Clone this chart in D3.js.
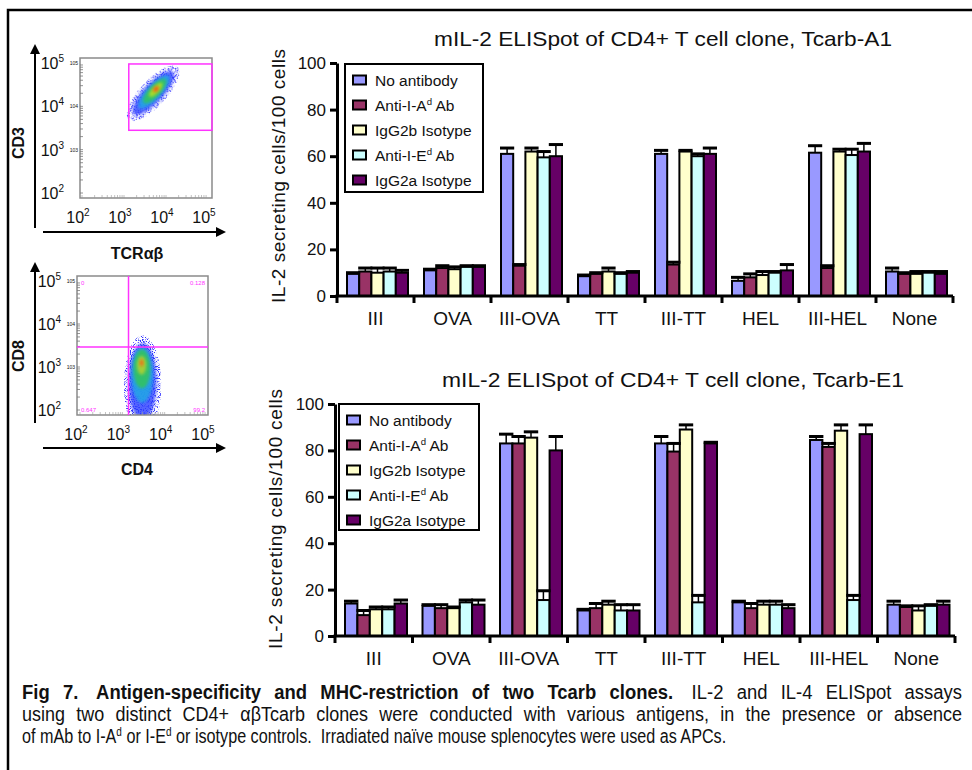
<!DOCTYPE html>
<html>
<head>
<meta charset="utf-8">
<script src="https://cdn.jsdelivr.net/npm/d3@7"></script>
<style>
  body { margin: 0; background: #fff; }
  svg { display: block; }
  text { font-family: "Liberation Sans", Arial, sans-serif; fill: #111; }
</style>
</head>
<body>
<div id="fig"></div>
<script>
// ---- data ----
const categories = ["III", "OVA", "III-OVA", "TT", "III-TT", "HEL", "III-HEL", "None"];
const treatments = ["No antibody", "Anti-I-A|d|Ab", "IgG2b Isotype", "Anti-I-E|d|Ab", "IgG2a Isotype"];
const treatmentColors = ["#9999ff", "#993366", "#ffffcc", "#ccffff", "#660066"];
const yTicks = [0, 20, 40, 60, 80, 100];

// Tcarb-A1, mean per category (5 treatments each)
const a1Means = [
  [9.5, 10.5, 10, 10.5, 10],
  [11, 12, 11.5, 12.5, 12.5],
  [61, 13, 62, 59.5, 60],
  [8.5, 9.5, 10.5, 9.5, 10],
  [61, 13.5, 62, 60, 61],
  [6.5, 8, 9, 10, 11],
  [61.5, 12, 62, 60.5, 62],
  [10.5, 9.5, 9.5, 10, 9.5]
];
const a1Errors = [
  [0.5, 1.5, 2, 1.5, 1],
  [0.5, 1, 1, 0.5, 0.5],
  [2.5, 0.5, 1.5, 2.5, 5],
  [0.5, 0.5, 1.5, 0.5, 0.5],
  [1.5, 1, 0.5, 1, 2.5],
  [1.5, 1.5, 1.5, 0.5, 2.5],
  [3, 1, 1, 2.5, 3.5],
  [1.5, 0.5, 1, 0.5, 1]
];

// Tcarb-E1
const e1Means = [
  [14, 9, 11.5, 11.5, 14],
  [13, 12, 12, 14.5, 13.5],
  [83, 83, 85.5, 15.5, 80],
  [11, 12, 13.5, 11, 11],
  [83, 79.5, 89, 14.5, 83],
  [14.5, 12, 13.5, 13.5, 12],
  [84.5, 81.5, 88.5, 15.5, 87],
  [13.5, 12.5, 11, 13, 13.5]
];
const e1Errors = [
  [1, 2, 1, 1, 1.5],
  [0.5, 1.5, 0.5, 1, 2],
  [4, 3, 2.5, 4, 6],
  [0.5, 2, 1.5, 2.5, 2.5],
  [3, 3.5, 2, 3, 0.5],
  [0.5, 2, 1.5, 1.5, 1.5],
  [1.5, 1.5, 2.5, 2, 4],
  [1.5, 0.5, 2, 0.5, 1.5]
];

// flow cytometry panels (log decades 10^2..10^5)
const flowTicks = [1e2, 1e3, 1e4, 1e5];
// density clouds: [x, y, rx (decades), ry (decades), rotation, colour]
const tcrCloud = [
  [4900, 20000, 0.85, 0.3, -47, "#3535ff"],
  [5000, 20500, 0.68, 0.22, -47, "#2b3dff"],
  [5200, 21500, 0.52, 0.17, -47, "#22a6e6"],
  [5400, 22500, 0.38, 0.13, -47, "#32c45c"],
  [5700, 24000, 0.22, 0.08, -47, "#b8e020"],
  [5800, 25000, 0.08, 0.05, -47, "#ff4a10"]
];
const tcrGate = [1300, 1e5, 2800, 95000];   // x0, x1, y0, y1
const cd4Cloud = [
  [3000, 380, 0.44, 1.15, 0, "#3535ff"],
  [3000, 450, 0.33, 0.9, 0, "#2b3dff"],
  [2950, 650, 0.26, 0.65, 0, "#22a6e6"],
  [2900, 900, 0.2, 0.45, 0, "#32c45c"],
  [2850, 1100, 0.11, 0.22, 0, "#b0d030"],
  [2850, 1250, 0.04, 0.08, 0, "#ff5a10"]
];
const cd4Quad = [1400, 2900];
const cd4QuadStats = ["0", "0.128", "0.647", "99.2"];

// ---- drawing ----
const W = 972, H = 770;
const svg = d3.select("#fig").append("svg").attr("width", W).attr("height", H);
const defs = svg.append("defs");

const blur = defs.append("filter").attr("id", "soft").attr("x", "-50%").attr("y", "-50%").attr("width", "200%").attr("height", "200%");
blur.append("feGaussianBlur").attr("stdDeviation", 1.8);

const speckle = defs.append("filter").attr("id", "speckle").attr("x", "-20%").attr("y", "-20%").attr("width", "140%").attr("height", "140%");
speckle.append("feTurbulence").attr("type", "fractalNoise").attr("baseFrequency", 0.9).attr("numOctaves", 1).attr("seed", 4).attr("result", "noise");
speckle.append("feColorMatrix").attr("in", "noise").attr("type", "matrix")
  .attr("values", "0 0 0 0 0  0 0 0 0 0  0 0 0 0 0  9 0 0 0 -4.6").attr("result", "mask");
speckle.append("feComposite").attr("in", "SourceGraphic").attr("in2", "mask").attr("operator", "in");

// figure frame
svg.append("path").attr("d", "M8,770 V10 H972").attr("fill", "none").attr("stroke", "#000").attr("stroke-width", 2.5);

defs.append("marker").attr("id", "arrow").attr("viewBox", "0 0 10 10").attr("refX", 8).attr("refY", 5)
  .attr("markerWidth", 5).attr("markerHeight", 5).attr("orient", "auto")
  .append("path").attr("d", "M0,0 L10,5 L0,10 Z").attr("fill", "#000");

function powLabel(sel, v) {
  const e = Math.round(Math.log10(v));
  sel.text("10");
  sel.append("tspan").attr("dy", -7).attr("font-size", 10).text(e);
}

function drawFlow(p) {
  const x = d3.scaleLog().domain([1e2, 1e5]).range(p.xr);
  const y = d3.scaleLog().domain([1e2, 1e5]).range(p.yr);
  const xd = (p.xr[1] - p.xr[0]) / 3, yd = (p.yr[0] - p.yr[1]) / 3;
  const g = svg.append("g");
  const [bx0, by0, bx1, by1] = p.box;

  const clipId = "clip" + p.id;
  defs.append("clipPath").attr("id", clipId).append("rect")
    .attr("x", bx0).attr("y", by0).attr("width", bx1 - bx0).attr("height", by1 - by0);

  g.append("rect").attr("x", bx0).attr("y", by0).attr("width", bx1 - bx0).attr("height", by1 - by0)
    .attr("fill", "#fff");

  const cloud = g.append("g").attr("clip-path", `url(#${clipId})`);
  p.cloud.forEach((c, i) => {
    const e = cloud.append("ellipse")
      .attr("cx", 0).attr("cy", 0)
      .attr("rx", c[2] * xd).attr("ry", c[3] * yd)
      .attr("transform", `translate(${x(c[0])},${y(c[1])}) rotate(${c[4]})`)
      .attr("fill", c[5]);
    if (i === 0) e.attr("filter", "url(#speckle)");
    else e.attr("filter", "url(#soft)").attr("opacity", i === 1 ? 0.8 : 0.88);
  });

  g.append("rect").attr("x", bx0).attr("y", by0).attr("width", bx1 - bx0).attr("height", by1 - by0)
    .attr("fill", "none").attr("stroke", "#8a8a8a").attr("stroke-width", 1.5);

  // minor tick marks along the inner left and bottom edges
  const minor = [];
  for (let d = 100; d < 1e5; d *= 10) for (let k = 1; k < 10; k++) minor.push(d * k);
  g.selectAll(".myt").data(minor).join("line")
    .attr("x1", bx0).attr("x2", bx0 + 3).attr("y1", d => y(d)).attr("y2", d => y(d))
    .attr("stroke", "#777").attr("stroke-width", 0.8);
  g.selectAll(".mxt").data(minor).join("line")
    .attr("y1", by1).attr("y2", by1 - 3).attr("x1", d => x(d)).attr("x2", d => x(d))
    .attr("stroke", "#999").attr("stroke-width", 0.6);

  p.extra(g, x, y);

  // tick labels
  g.selectAll(".yl").data(flowTicks).join("text")
    .attr("x", bx0 - 16).attr("y", d => y(d) + 6).attr("text-anchor", "end")
    .attr("font-size", 16).attr("fill", "#222")
    .each(function (d) { powLabel(d3.select(this), d); });
  g.selectAll(".xl").data(flowTicks).join("text")
    .attr("x", d => x(d) - 4).attr("y", p.xLabelY).attr("text-anchor", "middle")
    .attr("font-size", 16).attr("fill", "#222")
    .each(function (d) { powLabel(d3.select(this), d); });

  // tiny inner scale labels
  g.selectAll(".ty").data(flowTicks.slice(1)).join("text")
    .attr("x", bx0 - 2).attr("y", d => y(d) + 2).attr("text-anchor", "end")
    .attr("font-size", 5).attr("fill", "#666").text(d => "10" + Math.log10(d));

  // axis arrows
  g.append("line").attr("x1", 35).attr("x2", 35).attr("y1", p.arrowY[1]).attr("y2", p.arrowY[0])
    .attr("stroke", "#000").attr("stroke-width", 2).attr("marker-end", "url(#arrow)");
  g.append("line").attr("x1", 43).attr("x2", 224).attr("y1", p.arrowX).attr("y2", p.arrowX)
    .attr("stroke", "#000").attr("stroke-width", 2).attr("marker-end", "url(#arrow)");

  g.append("text").attr("x", 137).attr("y", p.arrowX + 27).attr("text-anchor", "middle")
    .attr("font-size", 16).attr("font-weight", "bold").text(p.xLabel);
  g.append("text").attr("transform", `translate(24,${p.yLabelY}) rotate(-90)`).attr("text-anchor", "middle")
    .attr("font-size", 16).attr("font-weight", "bold").text(p.yLabel);
}

drawFlow({
  id: "tcr", box: [80, 58, 212, 198], xr: [82, 208], yr: [193, 63],
  xLabelY: 223, arrowY: [46, 228], arrowX: 232, yLabelY: 143,
  xLabel: "TCRαβ", yLabel: "CD3", cloud: tcrCloud,
  extra: (g, x, y) => {
    g.append("rect").attr("x", x(tcrGate[0])).attr("y", y(tcrGate[3]))
      .attr("width", x(tcrGate[1]) + 4 - x(tcrGate[0])).attr("height", y(tcrGate[2]) - y(tcrGate[3]))
      .attr("fill", "none").attr("stroke", "#ff33ff").attr("stroke-width", 1.5);
  }
});

drawFlow({
  id: "cd4", box: [77, 276, 208, 415], xr: [80, 207], yr: [410, 281],
  xLabelY: 440, arrowY: [264, 423], arrowX: 448, yLabelY: 356,
  xLabel: "CD4", yLabel: "CD8", cloud: cd4Cloud,
  extra: (g, x, y) => {
    g.append("line").attr("x1", x(cd4Quad[0])).attr("x2", x(cd4Quad[0])).attr("y1", 276).attr("y2", 415)
      .attr("stroke", "#ff33ff").attr("stroke-width", 1.5);
    g.append("line").attr("x1", 77).attr("x2", 208).attr("y1", y(cd4Quad[1])).attr("y2", y(cd4Quad[1]))
      .attr("stroke", "#ff33ff").attr("stroke-width", 1.5);
    const pos = [[81, 285, "start"], [205, 285, "end"], [81, 412, "start"], [205, 412, "end"]];
    cd4QuadStats.forEach((s, i) => {
      g.append("text").attr("x", pos[i][0]).attr("y", pos[i][1]).attr("text-anchor", pos[i][2])
        .attr("font-size", 6).style("fill", "#ff33ff").text(s);
    });
  }
});

function supText(sel, label, size) {
  const parts = label.split("|");
  sel.append("tspan").text(parts[0]);
  if (parts.length > 1) {
    sel.append("tspan").attr("dy", -6).attr("font-size", size * 0.62).text(parts[1]);
    sel.append("tspan").attr("dy", 6).text(" " + parts[2]);
  }
}

function drawBars(c) {
  const x0 = d3.scaleBand().domain(categories).range([c.left, c.right]);
  const x1 = d3.scaleBand().domain(d3.range(treatments.length)).range([10, 10 + c.groupW]);
  const y = d3.scaleLinear().domain([0, 100]).range([c.bottom, c.top]);
  const g = svg.append("g");

  g.append("text").attr("x", c.titleX).attr("y", c.titleY).attr("text-anchor", "middle")
    .attr("font-size", 21).attr("textLength", c.titleW).attr("lengthAdjust", "spacingAndGlyphs").text(c.title);

  // bars
  const groups = g.selectAll(".grp").data(c.means).join("g")
    .attr("transform", (d, i) => `translate(${x0(categories[i])},0)`);
  groups.selectAll("rect").data(d => d).join("rect")
    .attr("x", (d, j) => x1(j)).attr("width", x1.bandwidth())
    .attr("y", d => y(d)).attr("height", d => y(0) - y(d))
    .attr("fill", (d, j) => treatmentColors[j])
    .attr("stroke", "#000").attr("stroke-width", 2);

  // error bars (upper only)
  groups.each(function (d, i) {
    const gg = d3.select(this);
    d.forEach((m, j) => {
      const e = c.errors[i][j];
      const cx = x1(j) + x1.bandwidth() / 2;
      gg.append("line").attr("x1", cx).attr("x2", cx).attr("y1", y(m)).attr("y2", y(m + e))
        .attr("stroke", "#000").attr("stroke-width", 1.5);
      gg.append("line").attr("x1", x1(j) - 1).attr("x2", x1(j) + x1.bandwidth() + 1)
        .attr("y1", y(m + e)).attr("y2", y(m + e))
        .attr("stroke", "#000").attr("stroke-width", 3);
    });
  });

  // y axis
  const ya = g.append("g").attr("transform", `translate(${c.left},0)`)
    .call(d3.axisLeft(y).tickValues(yTicks).tickSize(7).tickSizeOuter(0).tickPadding(4));
  ya.select(".domain").attr("stroke-width", 3);
  ya.selectAll(".tick line").attr("stroke-width", 3);
  ya.selectAll(".tick text").attr("font-size", 17).attr("font-family", null).attr("fill", "#222");

  g.append("text").attr("transform", `translate(${c.yLabelX},${c.yLabelY}) rotate(-90)`)
    .attr("text-anchor", "middle").attr("dominant-baseline", "central").attr("font-size", 19)
    .attr("textLength", c.yLabelW).attr("lengthAdjust", "spacing")
    .text("IL-2 secreting cells/100 cells");

  // x axis with ticks at category boundaries
  g.append("line").attr("x1", c.left - 1.5).attr("x2", c.right).attr("y1", y(0)).attr("y2", y(0))
    .attr("stroke", "#000").attr("stroke-width", 3);
  const edges = categories.map(k => x0(k)).concat([c.right]);
  g.selectAll(".edge").data(edges).join("line")
    .attr("x1", d => d).attr("x2", d => d).attr("y1", y(0)).attr("y2", y(0) + 7)
    .attr("stroke", "#000").attr("stroke-width", 3);
  g.selectAll(".xlab").data(categories).join("text")
    .attr("x", d => x0(d) + x0.bandwidth() / 2).attr("y", y(0) + 29)
    .attr("text-anchor", "middle").attr("font-size", 19).attr("fill", "#222").text(d => d);

  // legend
  const L = c.legend;
  const lg = g.append("g").attr("transform", `translate(${L.x},${L.y})`);
  lg.append("rect").attr("width", L.w).attr("height", L.h).attr("fill", "#fff")
    .attr("stroke", "#000").attr("stroke-width", 2);
  treatments.forEach((t, j) => {
    const row = lg.append("g").attr("transform", `translate(0,${16 + j * 25})`);
    row.append("rect").attr("x", 8).attr("y", -4.5).attr("width", 13).attr("height", 9)
      .attr("fill", treatmentColors[j]).attr("stroke", "#000").attr("stroke-width", 2);
    const tx = row.append("text").attr("x", 30).attr("y", 5.5).attr("font-size", 15.5);
    supText(tx, t, 15.5);
  });
}

drawBars({
  title: "mIL-2 ELISpot of CD4+ T cell clone, Tcarb-A1", titleX: 663, titleY: 46, titleW: 458,
  means: a1Means, errors: a1Errors,
  left: 337, right: 953, top: 63, bottom: 296, groupW: 61,
  yLabelX: 278, yLabelY: 176, yLabelW: 254,
  legend: { x: 345, y: 64, w: 138, h: 128 }
});

drawBars({
  title: "mIL-2 ELISpot of CD4+ T cell clone, Tcarb-E1", titleX: 673, titleY: 387, titleW: 462,
  means: e1Means, errors: e1Errors,
  left: 335, right: 955, top: 404, bottom: 636, groupW: 62,
  yLabelX: 275, yLabelY: 519, yLabelW: 260,
  legend: { x: 339, y: 404, w: 140, h: 126 }
});

// caption: regular sans squeezed horizontally to mimic the narrow face;
// lines 1-2 are justified (half by extra word spacing, half by a wider squeeze)
const cap = svg.append("g");
function capLine(build) {
  const t = cap.append("text").attr("x", 0).attr("y", 0).attr("font-size", 21);
  build(t);
  return t;
}
const c1 = capLine(t => {
  t.append("tspan").attr("font-weight", "bold").text("Fig 7.");
  t.append("tspan").attr("font-weight", "bold").attr("dx", 6).text(" Antigen-specificity and MHC-restriction of two Tcarb clones.");
  t.append("tspan").attr("dx", 6).text(" IL-2 and IL-4 ELISpot assays");
});
const c2 = capLine(t => {
  t.append("tspan").text("using two distinct CD4+ αβTcarb clones were conducted with various antigens, in the presence or absence");
});
const c3 = capLine(t => {
  t.append("tspan").text("of mAb to I-A");
  t.append("tspan").attr("dy", -7).attr("font-size", 13).text("d");
  t.append("tspan").attr("dy", 7).text(" or I-E");
  t.append("tspan").attr("dy", -7).attr("font-size", 13).text("d");
  t.append("tspan").attr("dy", 7).text(" or isotype controls.");
  t.append("tspan").attr("dx", 6).text(" Irradiated naïve mouse splenocytes were used as APCs.");
});
const squeeze = 700 / c3.node().getComputedTextLength();
c3.attr("transform", `translate(22,743) scale(${squeeze},1)`);
[[c1, 699], [c2, 721]].forEach(([t, yy]) => {
  const nat = t.node().getComputedTextLength();
  const k = Math.sqrt(940 / (nat * squeeze)) * squeeze;   // half the stretch by glyph width
  const spaces = (t.text().match(/ /g) || []).length;
  t.attr("transform", `translate(22,${yy}) scale(${k},1)`);
  let ws = Math.max(0, (940 / k - nat) / spaces);
  t.attr("word-spacing", ws);
  // correct against the measured right edge
  for (let it = 0; it < 3; it++) {
    const r = t.node().getBoundingClientRect();
    const svgLeft = svg.node().getBoundingClientRect().left;
    const right = r.right - svgLeft;
    ws += (962 - right) / (spaces * k);
    t.attr("word-spacing", Math.max(0, ws));
  }
});
</script>
</body>
</html>
